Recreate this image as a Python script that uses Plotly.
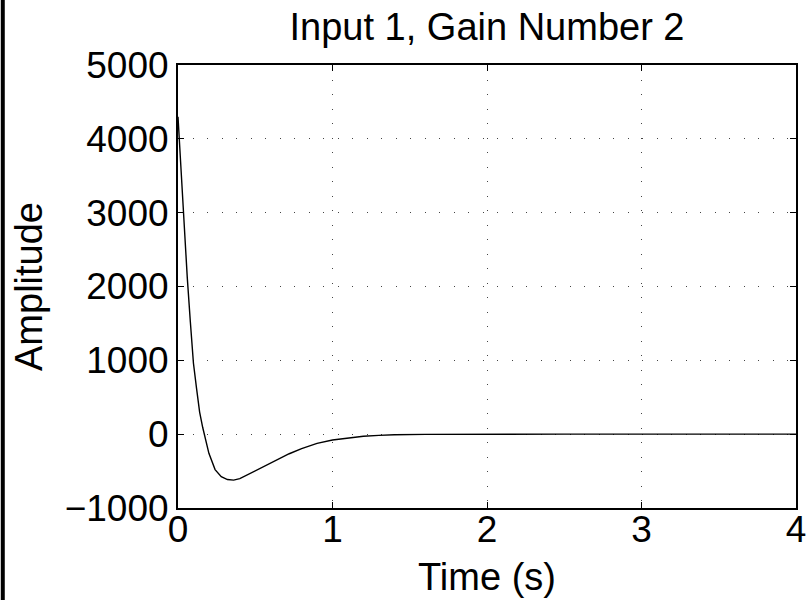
import plotly.graph_objects as go

# Impulse-response style curve
time_s = [0, 0.02, 0.04, 0.06, 0.08, 0.10, 0.12, 0.14, 0.16, 0.18, 0.20, 0.24, 0.28, 0.32,
          0.36, 0.40, 0.48, 0.56, 0.64, 0.72, 0.80, 0.90, 1.00, 1.10, 1.20, 1.30, 1.40,
          1.60, 1.80, 2.00, 2.50, 3.00, 3.50, 4.00]
amplitude = [4300, 3560, 2820, 2120, 1520, 960, 620, 300, 90, -100, -259, -480, -575, -615,
             -622, -602, -520, -430, -350, -265, -195, -125, -79, -50, -28, -16, -8,
             -3, -1, 0, 0, 0, 0, 0]

x_ticks = [0, 1, 2, 3, 4]
y_ticks = [-1000, 0, 1000, 2000, 3000, 4000, 5000]
y_tick_labels = ["\u22121000", "0", "1000", "2000", "3000", "4000", "5000"]

title_text = "Input 1, Gain Number 2"
x_title = "Time (s)"
y_title = "Amplitude"

W, H = 811, 600
L, R, T, B = 177.5, 14.5, 65, 92
pw = W - L - R
ph = H - T - B

font_family = "Liberation Sans, Arial, Helvetica, sans-serif"

fig = go.Figure()
fig.add_trace(go.Scatter(x=time_s, y=amplitude, mode="lines",
                         line=dict(color="black", width=1.4), showlegend=False))

axis_common = dict(
    showline=True, linecolor="black", linewidth=2, mirror="ticks",
    ticks="inside", ticklen=6, tickwidth=1, tickcolor="black",
    showgrid=True, gridcolor="#444444", gridwidth=1, griddash="1px,13.5px",
    zeroline=False, automargin=False,
    tickfont=dict(family=font_family, size=37, color="black"),
)

fig.update_xaxes(range=[0, 4], tickvals=x_ticks, ticktext=[str(v) for v in x_ticks],
                 title=dict(text=x_title, font=dict(family=font_family, size=38, color="black"),
                            standoff=14),
                 ticklabelstandoff=-12, **axis_common)
fig.update_yaxes(range=[-1000, 5000], tickvals=y_ticks, ticktext=y_tick_labels,
                 title=dict(text=y_title, font=dict(family=font_family, size=38, color="black"),
                            standoff=10),
                 ticklabelstandoff=0, **axis_common)

fig.update_layout(
    width=W, height=H,
    margin=dict(l=L, r=R, t=T, b=B),
    paper_bgcolor="white", plot_bgcolor="white",
    title=dict(text=title_text, x=0.5 * (L + W - R) / W, xanchor="center",
               y=1 - 27 / H, yanchor="middle",
               font=dict(family=font_family, size=38, color="black")),
    shapes=[dict(type="rect", xref="paper", yref="paper",
                 x0=(0 - L) / pw, x1=(4 - L) / pw, y0=-B / ph, y1=1 + T / ph,
                 fillcolor="black", line=dict(width=0), layer="above")],
)

fig.write_html("out.html")
